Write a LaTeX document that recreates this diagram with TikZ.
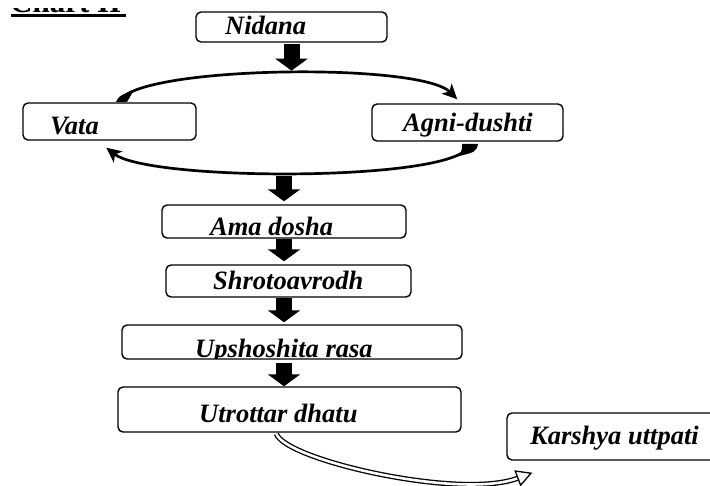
\documentclass[tikz,border=0pt]{standalone}
\usepackage{fontspec}
\setmainfont{Liberation Serif}
\usetikzlibrary{arrows.meta,calc}
\begin{document}
\begin{tikzpicture}[x=1pt,y=-1pt,
  box/.style={draw, line width=1.4pt, rounded corners=5pt, inner sep=0pt},
  lbl/.style={anchor=base west, inner sep=0pt, font=\fontsize{26.5}{31}\selectfont\bfseries\itshape, text=black},
  blockarrow/.style={line width=16pt, -{Triangle[length=12pt,width=32pt]}},
  arcline/.style={line width=2.7pt, -{Stealth[length=15pt,width=14pt,inset=4pt]}},
  hollow/.style={line width=1.3pt, double=white, double distance=2.6pt, -{Triangle[open,length=16pt,width=17pt]}},
]
\useasboundingbox (0,0) rectangle (710,486);
\clip (0,0) rectangle (710,486);

% cropped heading
\begin{scope}
  \clip (0,8.5) rectangle (140,13);
  \node[anchor=base west, inner sep=0pt, font=\fontsize{31}{36}\selectfont\bfseries] (title) at (10,12.5) {Chart II};
\end{scope}
\coordinate (ul1) at (10.5,15.7);
\coordinate (ul2) at (126,15.7);
\draw[line width=3.3pt] (ul1) -- (ul2);

% boxes
\node[box, minimum width=191pt, minimum height=30pt] (nidana) at (291.5,27) {};
\node[box, minimum width=173pt, minimum height=37pt] (vata) at (109.5,121.5) {};
\node[box, minimum width=191pt, minimum height=37pt] (agni) at (467.5,122.5) {};
\node[box, minimum width=244pt, minimum height=33pt] (ama) at (284,221.5) {};
\node[box, minimum width=245pt, minimum height=32pt] (shrot) at (288.5,281) {};
\begin{scope}
  \clip (122,325) rectangle (462,358.3);
  \node[lbl] (upshT) at (195,358) {Upshoshita rasa};
\end{scope}
\node[box, minimum width=340pt, minimum height=34pt] (upsh) at (292,342) {};
\node[box, minimum width=343pt, minimum height=45pt] (utr) at (289.5,409.5) {};
\node[box, minimum width=213pt, minimum height=47pt] (karshya) at (613.5,436.5) {};

% labels
\node[lbl] (nidanaT) at (225,35) {Nidana};
\node[lbl] (vataT) at (50,135) {Vata};
\node[lbl] (agniT) at (403,132) {Agni-dushti};
\node[lbl] (amaT) at (210,236) {Ama dosha};
\node[lbl] (shrotT) at (213,290) {Shrotoavrodh};
\node[lbl] (utrT) at (199,422) {Utrottar dhatu};
\node[lbl] (karshyaT) at (530,445) {Karshya uttpati};

% block arrows
\draw[blockarrow] ([yshift=-1pt]nidana.south) -- ([yshift=-28pt]nidana.south);
\draw[blockarrow] ([yshift=28pt]ama.north) -- ([yshift=3pt]ama.north);
\draw[blockarrow] (ama.south) -- ([yshift=3pt]ama.south |- shrot.north);
\draw[blockarrow] (ama.south |- shrot.south) -- ([yshift=2pt]ama.south |- upsh.north);
\draw[blockarrow] ([yshift=-3pt]ama.south |- upsh.south) -- (ama.south |- utr.north);

% cycle arcs
\coordinate (a1) at ($(vata.north west)+(98,-2)$);
\coordinate (a2) at ($(agni.north west)+(86,-4)$);
\coordinate (b1) at ($(agni.south west)+(98,3)$);
\coordinate (b2) at ($(vata.south west)+(84,7)$);
\draw[arcline] (a1) .. controls (140,66) and (420,62) .. (a2);
\fill (116,102) .. controls (119,96) .. (134,90) -- (127,102) -- cycle;
\draw[arcline] (b1) .. controls (462,182) and (150,182) .. (b2);
\fill (462,144) -- (478,144) .. controls (476,152) .. (455,157) .. controls (462,152) .. cycle;

% hollow arrow
\coordinate (c1) at ($(utr.south west)+(159,1)$);
\coordinate (c2) at ($(karshya.south west)+(26,12)$);
\draw[hollow] (c1) .. controls (285,460) and (460,500) .. (c2);
\end{tikzpicture}
\end{document}
